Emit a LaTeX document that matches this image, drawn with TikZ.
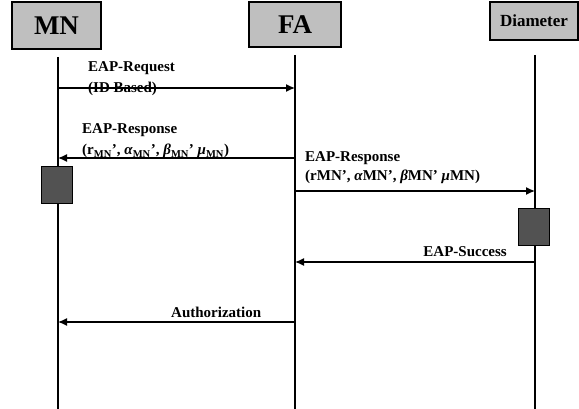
\documentclass[tikz,border=0pt]{standalone}
\usepackage{fontspec}
\setmainfont{Liberation Serif}
\usetikzlibrary{arrows.meta}
\newcommand{\gk}[1]{\textit{#1}}
\begin{document}
\begin{tikzpicture}[x=1pt,y=-1pt,
  hdr/.style={draw=black,line width=1.3pt,fill=black!25,inner sep=0pt},
  life/.style={line width=2pt},
  msg/.style={line width=1.3pt,-{Latex[length=9pt,width=8pt]}},
  act/.style={draw=black,line width=1pt,fill=black!68,minimum width=31pt,minimum height=37pt,inner sep=0pt},
  lbl/.style={font=\bfseries\fontsize{15}{17}\selectfont,inner sep=0pt,anchor=base west},
  lble/.style={lbl,anchor=base east}]
\useasboundingbox (0,0) rectangle (579,409);
% headers
\node[hdr,minimum width=89pt,minimum height=47pt,font=\bfseries\fontsize{27}{29}\selectfont] (mnh) at (56.5,25.5) {MN};
\node[hdr,minimum width=92pt,minimum height=45pt,font=\bfseries\fontsize{27}{29}\selectfont] (fah) at (295,24.5) {FA};
\node[hdr,minimum width=88pt,minimum height=38pt,font=\bfseries\fontsize{17}{19}\selectfont] (dih) at (534,21) {Diameter};
% lifelines
\coordinate (mnt) at (58,57);  \coordinate (mnb) at (58,409);
\coordinate (fat) at (295,55); \coordinate (fab) at (295,409);
\coordinate (dit) at (535,55); \coordinate (dib) at (535,409);
\draw[life] (mnt) -- (mnb);
\draw[life] (fat) -- (fab);
\draw[life] (dit) -- (dib);
% message points
\coordinate (mn1) at (58,88);  \coordinate (fa1) at (295,88);
\coordinate (fa2) at (295,158); \coordinate (mn2) at (58,158);
\coordinate (fa3) at (295,191); \coordinate (di3) at (535,191);
\coordinate (di4) at (535,262); \coordinate (fa4) at (295,262);
\coordinate (fa5) at (295,322); \coordinate (mn5) at (58,322);
% messages
\draw[msg] (mn1) -- (fa1);
\draw[msg] (fa2) -- (mn2);
\draw[msg] (fa3) -- (di3);
\draw[msg] (di4) -- (fa4);
\draw[msg] (fa5) -- (mn5);
% activation boxes
\node[act] (mnact) at (56.5,185) {};
\node[act] (diact) at (533.5,227.5) {};
% labels
\node[lbl] (l1a) at (88,72) {EAP-Request};
\node[lbl] (l1b) at (88,93) {(ID Based)};
\node[lbl] (l2a) at (82,134) {EAP-Response};
\node[lbl] (l2b) at (82,155) {(r\textsubscript{MN}', \gk{α}\textsubscript{MN}', \gk{β}\textsubscript{MN}' \gk{μ}\textsubscript{MN})};
\node[lbl] (l3a) at (305,162) {EAP-Response};
\node[lbl] (l3b) at (305,181) {(rMN', \gk{α}MN', \gk{β}MN' \gk{μ}MN)};
\node[lble] (l4) at (507,257) {EAP-Success};
\node[lbl] (l5) at (171,317) {Authorization};
\end{tikzpicture}
\end{document}
